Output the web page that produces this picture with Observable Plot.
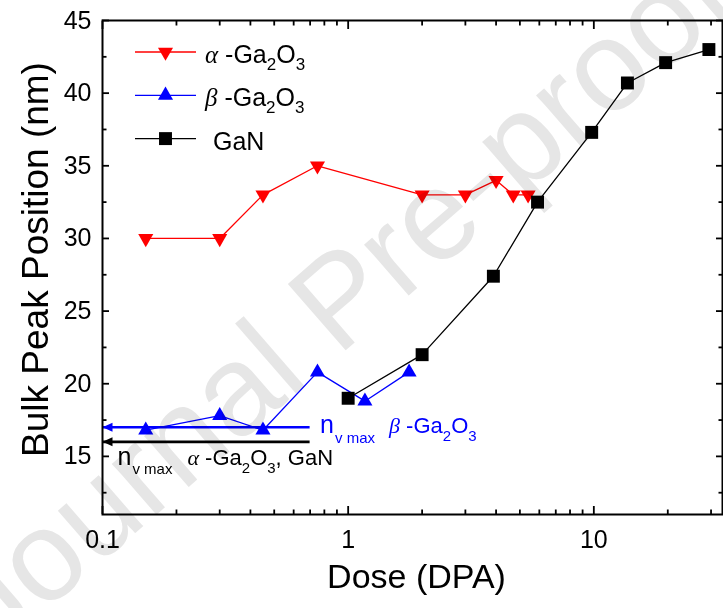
<!DOCTYPE html>
<html><head><meta charset="utf-8">
<script src="https://cdn.jsdelivr.net/npm/d3@7"></script>
<script src="https://cdn.jsdelivr.net/npm/@observablehq/plot@0.6"></script>
<style>
body{margin:0;background:#fff;}
#wrap{position:relative;width:723px;height:608px;overflow:hidden;background:#fff;}
#wrap svg{background:transparent;}
#wm{position:absolute;left:0;top:0;pointer-events:none;mix-blend-mode:multiply;}
</style></head><body><div id="wrap"></div>
<script>
// ---- data ----
const alphaDose = [0.15, 0.3, 0.45, 0.75, 2, 3, 4, 4.7, 5.4];
const alphaPeak = [30, 30, 33, 35, 33, 33, 34, 33, 33];
const betaDose  = [0.15, 0.3, 0.45, 0.75, 1.17, 1.77];
const betaPeak  = [16.8, 17.8, 16.8, 20.8, 18.8, 20.8];
const ganDose   = [1, 2, 3.9, 5.9, 9.8, 13.7, 19.6, 29.4];
const ganPeak   = [19, 22, 27.4, 32.5, 37.3, 40.7, 42.1, 43];
const nvMaxBeta = 17;        // n_v max for beta-Ga2O3
const nvMaxAlphaGaN = 16;    // n_v max for alpha-Ga2O3 and GaN
const nvLineEnd = 0.7;       // dose where the n_v max arrows end
const xDomain = [0.1, 33.4];
const yDomain = [11, 45];
const xMajorTicks = [0.1, 1, 10];
const xMinorTicks = [0.2,0.3,0.4,0.5,0.6,0.7,0.8,0.9,2,3,4,5,6,7,8,9,20,30];
const yMajorTicks = [15, 20, 25, 30, 35, 40, 45];
const yMinorTicks = [12.5, 17.5, 22.5, 27.5, 32.5, 37.5, 42.5];
const seriesNames = ["alpha", "beta", "GaN"];
const seriesColors = ["#ff0000", "#0000ff", "#000000"];

const toRows = (xs, ys) => xs.map((x, i) => ({x, y: ys[i]}));
const alpha = toRows(alphaDose, alphaPeak);
const beta = toRows(betaDose, betaPeak);
const gan = toRows(ganDose, ganPeak);

const S3 = Math.sqrt(3);
const tri = (s) => ({draw(ctx, size){
  const y = Math.sqrt(size / (3 * S3));
  ctx.moveTo(0, -2 * y * s); ctx.lineTo(S3 * y, y * s); ctx.lineTo(-S3 * y, y * s); ctx.closePath();
}});
const triUp = tri(1), triDown = tri(-1);
const headLeft = {draw(ctx){ ctx.moveTo(0, 0); ctx.lineTo(10, -4.5); ctx.lineTo(10, 4.5); ctx.closePath(); }};
const seriesSymbols = [triDown, triUp, "square"];
const triR = 5.6, sqR = 7.3;

const FONT = "'Liberation Sans', Arial, sans-serif";
const blank = () => "";

const chart = Plot.plot({
  width: 723, height: 608,
  marginLeft: 102, marginRight: 1, marginTop: 20, marginBottom: 94,
  x: {type: "log", domain: xDomain},
  y: {domain: yDomain},
  style: {fontFamily: FONT, fontSize: "25px", color: "black", background: "transparent", overflow: "visible"},
  marks: [
    // reference n_v max lines with arrowheads
    Plot.ruleY([nvMaxBeta], {y: d => d, x1: xDomain[0], x2: nvLineEnd, stroke: seriesColors[1], strokeWidth: 2.6}),
    Plot.ruleY([nvMaxAlphaGaN], {y: d => d, x1: xDomain[0], x2: nvLineEnd, stroke: "#000", strokeWidth: 2.6}),
    Plot.dot([nvMaxBeta], {x: xDomain[0], y: d => d, symbol: headLeft, fill: seriesColors[1], stroke: "none"}),
    Plot.dot([nvMaxAlphaGaN], {x: xDomain[0], y: d => d, symbol: headLeft, fill: "#000", stroke: "none"}),
    // series
    Plot.line(alpha, {x: "x", y: "y", stroke: seriesColors[0], strokeWidth: 1.3}),
    Plot.dot(alpha, {x: "x", y: "y", symbol: triDown, r: triR, fill: seriesColors[0], stroke: "none"}),
    Plot.line(beta, {x: "x", y: "y", stroke: seriesColors[1], strokeWidth: 1.3}),
    Plot.dot(beta, {x: "x", y: "y", symbol: triUp, r: triR, fill: seriesColors[1], stroke: "none"}),
    Plot.line(gan, {x: "x", y: "y", stroke: seriesColors[2], strokeWidth: 1.3}),
    Plot.dot(gan, {x: "x", y: "y", symbol: "square", r: sqR, fill: seriesColors[2], stroke: "none"}),
    // annotations (rich text filled in below)
    Plot.text(["ANN_BETA"], {x: nvLineEnd, y: nvMaxBeta, text: d => d, dx: 10, dy: 6, textAnchor: "start", lineAnchor: "bottom", fill: seriesColors[1], fontSize: 25}),
    Plot.text(["ANN_ALPHA"], {x: xDomain[0], y: nvMaxAlphaGaN, text: d => d, dx: 15, dy: 23, textAnchor: "start", lineAnchor: "bottom", fill: "#000", fontSize: 25}),
    // axes: labels
    Plot.axisX(xMajorTicks, {anchor: "bottom", tickSize: 0, tickPadding: 16, tickFormat: d => String(d), fontSize: 25, label: null}),
    Plot.axisY(yMajorTicks, {anchor: "left", tickSize: 0, tickPadding: 11, tickFormat: d => String(d), fontSize: 25, label: null}),
    // axes: inward ticks on all four sides
    Plot.axisX(xMajorTicks, {anchor: "bottom", tickSize: -8, tickFormat: blank, label: null, strokeWidth: 1.8}),
    Plot.axisX(xMinorTicks, {anchor: "bottom", tickSize: -4.5, tickFormat: blank, label: null, strokeWidth: 1.8}),
    Plot.axisX(xMajorTicks, {anchor: "top", tickSize: -8, tickFormat: blank, label: null, strokeWidth: 1.8}),
    Plot.axisX(xMinorTicks, {anchor: "top", tickSize: -4.5, tickFormat: blank, label: null, strokeWidth: 1.8}),
    Plot.axisY(yMajorTicks, {anchor: "left", tickSize: -7, tickFormat: blank, label: null, strokeWidth: 1.8}),
    Plot.axisY(yMinorTicks, {anchor: "left", tickSize: -4.5, tickFormat: blank, label: null, strokeWidth: 1.8}),
    Plot.axisY(yMajorTicks, {anchor: "right", tickSize: -7, tickFormat: blank, label: null, strokeWidth: 1.8}),
    Plot.axisY(yMinorTicks, {anchor: "right", tickSize: -4.5, tickFormat: blank, label: null, strokeWidth: 1.8}),
    Plot.frame({stroke: "#000", strokeWidth: 2}),
    // axis titles
    Plot.text(["Dose (DPA)"], {frameAnchor: "bottom", text: d => d, dy: 73, dx: 4, textAnchor: "middle", lineAnchor: "bottom", fontSize: 34, fill: "#000"}),
    Plot.text(["Bulk Peak Position (nm)"], {frameAnchor: "left", text: d => d, rotate: -90, dx: -55, dy: -8, textAnchor: "middle", lineAnchor: "bottom", fontSize: 37, fill: "#000"})
  ]
});
document.getElementById("wrap").appendChild(chart);

// ---- rich text helper (subscripts, italic greek) ----
const NS = "http://www.w3.org/2000/svg";
function rich(el, parts) {
  while (el.firstChild) el.removeChild(el.firstChild);
  let shift = 0;
  for (const p of parts) {
    const t = document.createElementNS(NS, "tspan");
    t.textContent = p.t;
    const want = p.sub || 0;
    if (want !== shift) { t.setAttribute("dy", want - shift); shift = want; }
    if (p.size) t.setAttribute("font-size", p.size);
    if (p.dx) t.setAttribute("dx", p.dx);
    if (p.italic) { t.setAttribute("font-style", "italic"); t.setAttribute("font-family", "'Liberation Serif', serif"); }
    el.appendChild(t);
  }
}
const greekParts = (g, size, sub, subSize) => [
  {t: g, italic: true, size},
  {t: " -Ga", size},
  {t: "2", sub, size: subSize},
  {t: "O", size},
  {t: "3", sub, size: subSize}
];
d3.select(chart).selectAll("text").each(function() {
  if (this.textContent === "ANN_BETA") {
    rich(this, [{t: "n", size: 25}, {t: "v max", sub: 10, size: 15, dx: 1},
      ...greekParts("β", 22, 8, 15).map((p, i) => i === 0 ? {...p, dx: 14} : p)]);
  } else if (this.textContent === "ANN_ALPHA") {
    const g = greekParts("α", 22, 8, 15).map((p, i) => i === 0 ? {...p, dx: 15} : p);
    g.push({t: ", GaN", size: 22});
    rich(this, [{t: "n", size: 25}, {t: "v max", sub: 9, size: 15, dx: 1}, ...g]);
  }
});

// ---- legend (inside the frame, top-left) ----
const leg = d3.select(chart).append("g").attr("font-family", FONT).attr("text-anchor", "start");
const legendParts = [
  greekParts("α", 25, 7, 17),
  greekParts("β", 25, 7, 17),
  [{t: "GaN", size: 25, dx: 8}]
];
seriesNames.forEach((name, i) => {
  const cy = 52 + i * 43.3;
  leg.append("line").attr("x1", 135).attr("x2", 196).attr("y1", cy).attr("y2", cy)
    .attr("stroke", seriesColors[i]).attr("stroke-width", 1.3);
  const r = i === 2 ? sqR : triR;
  leg.append("path").attr("d", d3.symbol(seriesSymbols[i] === "square" ? d3.symbolSquare : seriesSymbols[i], Math.PI * r * r)())
    .attr("transform", `translate(165.5,${cy})`).attr("fill", seriesColors[i]);
  const t = leg.append("text").attr("x", 205).attr("y", cy + 11).attr("fill", "#000")
    .attr("font-size", 25).attr("text-anchor", "start");
  rich(t.node(), legendParts[i]);
});

// ---- "Journal Pre-proof" watermark ----
const wm = d3.select("#wrap").append("svg").attr("id", "wm").attr("width", 723).attr("height", 608);
wm.append("text").text("Journal Pre-proof")
  .attr("transform", "translate(338,298) rotate(-41)")
  .attr("text-anchor", "middle").attr("dominant-baseline", "central")
  .attr("font-family", FONT).attr("font-size", 128).attr("fill", "#e6e6e6");
</script></body></html>
